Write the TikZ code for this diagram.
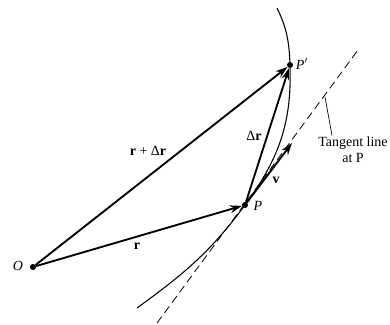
\documentclass[tikz,border=0pt]{standalone}
\usepackage{fontspec}
\setmainfont{Liberation Serif}
\usetikzlibrary{arrows.meta}

\begin{document}
\begin{tikzpicture}[x=0.75pt,y=0.75pt,
                    dot/.style={circle,fill,inner sep=0pt,minimum size=4.5pt},
                    vec/.style={line width=1.4pt,-{Stealth[length=9pt,width=6pt]}},
                    lbl/.style={font=\fontsize{10.5}{12}\selectfont,inner sep=1pt}]
  \useasboundingbox (0,0) rectangle (390,325);

  \node[dot] (O) at (33,58) {};
  \node[dot] (P) at (245,120) {};
  \node[dot] (Q) at (290,260) {};
  \coordinate (vtip) at (292,182);
  \coordinate (bot) at (137,17);
  \coordinate (top) at (277,317);
  \coordinate (t1) at (157,2);
  \coordinate (t2) at (358,275);
  \coordinate (tmark) at (325,228);

  % path of the particle and its tangent at P
  \draw[line width=0.8pt] (bot) to[out=36,in=233.6] (P.center)
    to[out=53.6,in=-88] (Q.center) to[out=92,in=-64] (top);
  \draw[line width=0.6pt,dash pattern=on 6pt off 3.5pt] (t1) -- (t2);

  % vectors
  \draw[vec] (O) -- (P);
  \draw[vec] (O) -- (Q);
  \draw[vec] (P) -- (Q);
  \draw[vec] (P) -- (vtip);

  \node[lbl] (lO) at (18,59) {\textit{O}};
  \node[lbl] (lP) at (258,119) {\textit{P}};
  \node[lbl] (lQ) at (302,261) {\textit{P}$'$};
  \node[lbl] (lr) at (137,79) {\textbf{r}};
  \node[lbl] (lrdr) at (148,174) {\textbf{r} + Δ\textbf{r}};
  \node[lbl] (ldr) at (254,189) {Δ\textbf{r}};
  \node[lbl] (lv) at (276,145) {\textbf{v}};
  \node[lbl,align=center] (tan) at (353,175) {Tangent line\\at P};
  \draw[line width=0.5pt] (tan.north) ++(-21,0) coordinate (lead) -- (tmark);
\end{tikzpicture}
\end{document}
